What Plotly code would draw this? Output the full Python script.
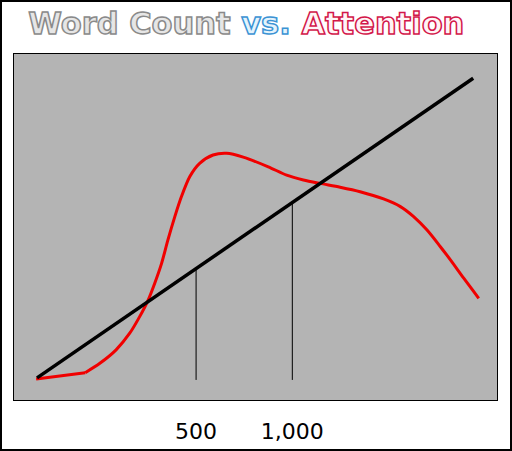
import numpy as np
import plotly.graph_objects as go

# word count (x) vs attention (y, 0-100)
trend_x = [159, 3680]
trend_y = [6.4, 93.0]

attention_x = [158, 225, 250, 281, 310, 333, 354, 371, 390, 408, 429, 450,
               478, 513, 565, 623, 702, 841, 960, 1083, 1221, 1411,
               1630, 1929, 2178, 2396, 2639, 2905, 3123, 3437, 3830]
attention_y = [6.1, 7.9, 10.6, 14.5, 19.3, 24.1, 28.9, 33.7, 39.5, 46.2,
               53.0, 58.8, 64.6, 68.4, 70.8, 71.3, 70.2, 67.4, 65.0,
               63.6, 62.6, 61.5, 60.2, 58.1, 55.9, 53.0, 49.1, 44.3, 40.5,
               35.2, 29.4]

marker_x = [500, 1000]
marker_floor = 5.8
tick_labels = ["500", "1,000"]

# height of the trend line at each marker (straight line on the log axis)
marker_top = np.interp(np.log10(marker_x), np.log10(trend_x), trend_y)

fig = go.Figure()

for mx, mt in zip(marker_x, marker_top):
    fig.add_trace(go.Scatter(x=[mx, mx], y=[marker_floor, mt], mode="lines",
                             line=dict(color="black", width=1), hoverinfo="skip"))

fig.add_trace(go.Scatter(x=attention_x[:2], y=attention_y[:2], mode="lines",
                         line=dict(color="#f00000", width=3)))
fig.add_trace(go.Scatter(x=attention_x[1:], y=attention_y[1:], mode="lines",
                         line=dict(color="#f00000", width=3, shape="spline", smoothing=0.8)))

fig.add_trace(go.Scatter(x=trend_x, y=trend_y, mode="lines",
                         line=dict(color="black", width=3.5)))

title = ('<span style="color:#e6e6e6;stroke:#8a8a8a;stroke-width:1.5px">Word Count</span> '
         '<span style="color:#e4f3fc;stroke:#3b93d4;stroke-width:1.5px">vs.</span> '
         '<span style="color:#fff4f6;stroke:#d3174a;stroke-width:1.5px">Attention</span>')

fig.update_layout(
    width=512, height=451,
    margin=dict(l=14, r=15, t=54, b=51),
    paper_bgcolor="white",
    plot_bgcolor="#b4b4b4",
    showlegend=False,
    title=dict(text=title, x=0.481, xref="container", xanchor="center",
               y=0.949, yref="container", yanchor="middle",
               font=dict(family="DejaVu Sans", size=30.5, weight="bold")),
    xaxis=dict(type="log", range=[np.log10(134.7), np.log10(4368)],
               tickvals=marker_x, ticktext=tick_labels, ticks="",
               showgrid=False, zeroline=False, automargin=False,
               showline=True, mirror=True, linecolor="black", linewidth=1,
               tickfont=dict(family="DejaVu Sans", size=22, color="black"),
               ticklabelstandoff=12),
    yaxis=dict(range=[0, 100], showticklabels=False, ticks="",
               showgrid=False, zeroline=False, automargin=False,
               showline=True, mirror=True, linecolor="black", linewidth=1),
    shapes=[dict(type="rect", xref="paper", yref="paper",
                 x0=-13 / 483, x1=1 + 14 / 483, y0=-50 / 346, y1=1 + 53 / 346,
                 line=dict(color="black", width=2))],
)

# page has a default 8px body margin; drop it so the figure sits at 0,0
fig.write_html("out.html", config={"displayModeBar": False},
               post_script="document.body.style.margin='0';")
